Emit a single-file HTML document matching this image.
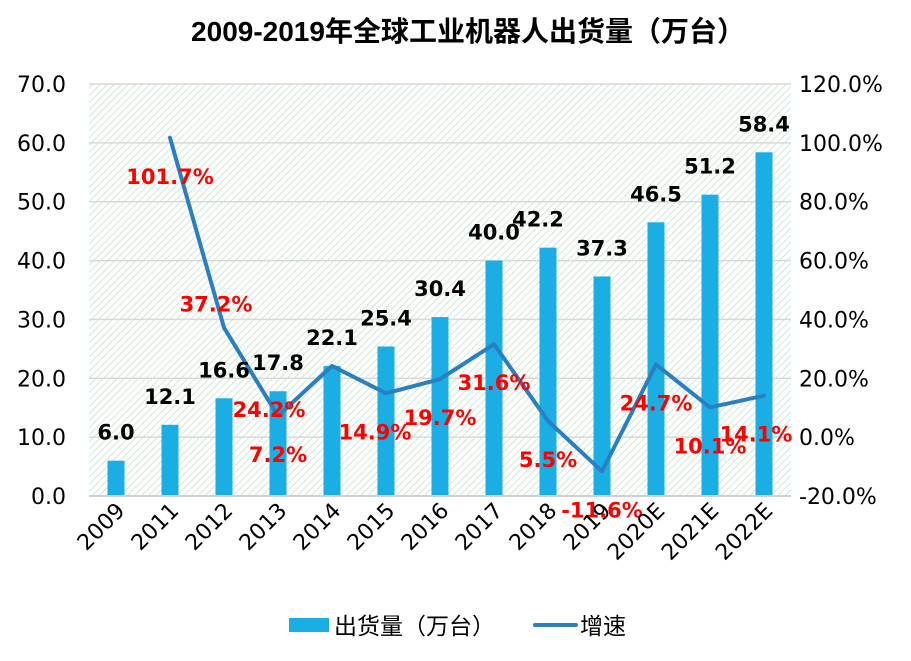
<!DOCTYPE html>
<html><head><meta charset="utf-8">
<style>
body{margin:0;background:#fff;}
svg{display:block;font-family:"DejaVu Sans","Noto Sans CJK SC",sans-serif;}
</style></head>
<body>
<svg id="chart" width="911" height="661" viewBox="0 0 911 661">
<defs>
<pattern id="hatch" width="5" height="5" patternUnits="userSpaceOnUse" patternTransform="rotate(45)">
<rect width="5" height="5" fill="#fff"/>
<line x1="0" y1="0" x2="0" y2="5" stroke="#cfe8d6" stroke-width="2"/>
</pattern>
</defs>
<text x="468" y="41" text-anchor="middle" font-size="28" font-weight="bold" fill="#000" style="font-family:'Liberation Sans','Noto Sans CJK SC',sans-serif">2009-2019年全球工业机器人出货量（万台）</text>
<rect x="89" y="84" width="702" height="412" fill="url(#hatch)"/>
<g id="grid"></g>
<g id="bars"></g>
<g id="line"></g>
<g id="labels"></g>
<g id="axes"></g>
<g>
<rect x="289" y="618" width="40" height="14" fill="#1aaee5"/>
<text x="334" y="634" font-size="23" fill="#000" style="font-family:'Noto Sans CJK SC',sans-serif">出货量（万台）</text>
<line x1="535" y1="625" x2="576" y2="625" stroke="#2a7fc0" stroke-width="4" stroke-linecap="round"/>
<text x="580" y="634" font-size="23" fill="#000" style="font-family:'Noto Sans CJK SC',sans-serif">增速</text>
</g>
</svg>
<script>
const categories=["2009","2011","2012","2013","2014","2015","2016","2017","2018","2019","2020E","2021E","2022E"];
const shipments=[6.0,12.1,16.6,17.8,22.1,25.4,30.4,40.0,42.2,37.3,46.5,51.2,58.4];
const growth=[null,101.7,37.2,7.2,24.2,14.9,19.7,31.6,5.5,-11.6,24.7,10.1,14.1];
const leftTicks=[0,10,20,30,40,50,60,70];
const rightTicks=[-20,0,20,40,60,80,100,120];

const NS="http://www.w3.org/2000/svg";
const L=89,R=791,T=84,B=496;
const step=(R-L)/categories.length;
const xc=i=>L+step*(i+0.5);
const yL=v=>B-(v-0)/(70-0)*(B-T);
const yR=v=>B-(v+20)/(140)*(B-T);
function mk(tag,attrs,parent,txt){const e=document.createElementNS(NS,tag);for(const k in attrs)e.setAttribute(k,attrs[k]);if(txt!==undefined)e.textContent=txt;parent.appendChild(e);return e;}
const grid=document.getElementById('grid'),bars=document.getElementById('bars'),lineG=document.getElementById('line'),labels=document.getElementById('labels'),axes=document.getElementById('axes');

leftTicks.forEach(v=>{
  const y=yL(v);
  if(v>0){const g=mk('line',{x1:L,x2:R,y1:y,y2:y,stroke:'#d9d9d9','stroke-width':1.5},grid);
  
  }
  const t=mk('text',{x:66,y:y+8,'text-anchor':'end','font-size':22,fill:'#000'},axes,v.toFixed(1));
  
  
});
rightTicks.forEach(v=>{
  const t=mk('text',{x:799,y:yR(v)+8,'text-anchor':'start','font-size':22,fill:'#000'},axes,v.toFixed(1)+'%');
  
  
});
const ax=mk('line',{x1:L,x2:R,y1:B,y2:B,stroke:'#d0d0d0','stroke-width':2},axes);



categories.forEach((c,i)=>{
  const x=xc(i);
  const t=mk('text',{x:0,y:0,'text-anchor':'end','font-size':22,fill:'#000',transform:`translate(${x+10},${B+16}) rotate(-45)`},axes,c);
  
  
  const v=shipments[i];
  const b=mk('rect',{x:x-8.5,y:yL(v),width:17,height:B-yL(v),fill:'#1aaee5'},bars);
  
  
  const dx=(c==="2018")?-10:0;
  const bl=mk('text',{x:x+dx,y:yL(v)-21,'text-anchor':'middle','font-size':21,'font-weight':'bold',fill:'#000'},labels,v.toFixed(1));
  
  
});

let pts=[];
growth.forEach((g,i)=>{if(g!==null)pts.push([xc(i),yR(g)]);});
const pl=mk('polyline',{points:pts.map(p=>p.join(',')).join(' '),fill:'none',stroke:'#2a7fc0','stroke-width':4,'stroke-linejoin':'round','stroke-linecap':'round'},lineG);



growth.forEach((g,i)=>{
  if(g===null)return;
  let dx=0,dy=38;
  if(categories[i]==="2012"){dx=-8;dy=-24;}
  if(categories[i]==="2014"){dx=-63;dy=43;}
  if(categories[i]==="2015"){dx=-11;}
  if(categories[i]==="2022E"){dx=-8;}
  const t=mk('text',{x:xc(i)+dx,y:yR(g)+dy+8,'text-anchor':'middle','font-size':21,'font-weight':'bold',fill:'#ff0000'},labels,g.toFixed(1)+'%');
  
  
});
</script>
</body></html>
